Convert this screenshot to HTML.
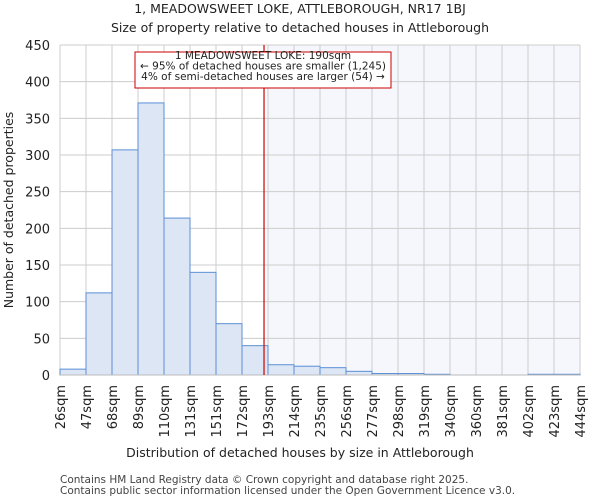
<!DOCTYPE html>
<html><head><meta charset="utf-8"><style>
body{margin:0;background:#fff;font-family:"DejaVu Sans","Liberation Sans",sans-serif}
</style></head><body>
<svg id="chart" width="600" height="500" xmlns="http://www.w3.org/2000/svg" font-family="DejaVu Sans, Liberation Sans, sans-serif">
<text x="300" y="13" text-anchor="middle" font-size="12.5" fill="#222">1, MEADOWSWEET LOKE, ATTLEBOROUGH, NR17 1BJ</text>
<text x="300" y="32" text-anchor="middle" font-size="12.5" fill="#222">Size of property relative to detached houses in Attleborough</text>
<g id="grid"></g><g id="bars"></g><g id="axes"></g>
<text x="300" y="457" text-anchor="middle" font-size="12.5" fill="#222">Distribution of detached houses by size in Attleborough</text>
<text transform="translate(13,210) rotate(-90)" text-anchor="middle" font-size="12.5" fill="#222">Number of detached properties</text>
<text x="60" y="483" font-size="10.5" fill="#444">Contains HM Land Registry data © Crown copyright and database right 2025.</text>
<text x="60" y="494" font-size="10.5" fill="#444">Contains public sector information licensed under the Open Government Licence v3.0.</text>
</svg>
<script>
const categories=["26sqm","47sqm","68sqm","89sqm","110sqm","131sqm","151sqm","172sqm","193sqm","214sqm","235sqm","256sqm","277sqm","298sqm","319sqm","340sqm","360sqm","381sqm","402sqm","423sqm","444sqm"];
const counts=[8,112,307,371,214,140,70,40,14,12,10,5,2,2,1,0,0,0,1,1];
const yTicks=[0,50,100,150,200,250,300,350,400,450];
const binStart=26, binEnd=444, subjectSize=190;
const L=60,R=580,T=45,B=375,yMax=450;
const NS="http://www.w3.org/2000/svg";
const n=counts.length;
const bw=(R-L)/n;
const xs=v=>L+(v-binStart)/(binEnd-binStart)*(R-L);
const ys=v=>B-v/yMax*(B-T);
function mk(p,tag,a){const e=document.createElementNS(NS,tag);for(const k in a)e.setAttribute(k,a[k]);document.getElementById(p).appendChild(e);return e;}
const sx=xs(subjectSize);
let e=mk("grid","rect",{x:sx+3,y:T,width:R-sx-3,height:B-T,fill:"#f5f7fd"});


for(let i=0;i<=n;i++){e=mk("grid","line",{x1:L+i*bw,x2:L+i*bw,y1:T,y2:B,stroke:"#ccc","stroke-width":1});

}
yTicks.forEach(t=>{e=mk("grid","line",{x1:L,x2:R,y1:ys(t),y2:ys(t),stroke:"#ccc","stroke-width":1});


e=mk("axes","text",{x:L-10,y:ys(t)+5,"text-anchor":"end","font-size":13,fill:"#222"});e.textContent=t;

});
counts.forEach((c,i)=>{e=mk("bars","rect",{x:L+i*bw,y:ys(c),width:bw,height:B-ys(c),fill:"#dce6f4",stroke:"#5b8fd6","stroke-width":1});

});
categories.forEach((c,i)=>{const x=L+i*bw;e=mk("axes","text",{transform:`translate(${x+5},385) rotate(-90)`,"text-anchor":"end","font-size":13,fill:"#222"});e.textContent=c;

});
e=mk("axes","line",{x1:L,x2:R,y1:B,y2:B,stroke:"#bbb"});


e=mk("axes","line",{x1:sx,x2:sx,y1:T,y2:B,stroke:"#cc0000","stroke-width":1.2});


e=mk("axes","rect",{x:135,y:52,width:256,height:36,fill:"#fff",stroke:"#cc0000","stroke-width":1});


["1 MEADOWSWEET LOKE: 190sqm","← 95% of detached houses are smaller (1,245)","4% of semi-detached houses are larger (54) →"].forEach((s,i)=>{e=mk("axes","text",{x:263,y:62+i*10.5,"text-anchor":"middle","font-size":10.5,fill:"#222"});e.textContent=s;
e.setAttribute('y',59+i*10.5);

});
</script>
</body></html>
